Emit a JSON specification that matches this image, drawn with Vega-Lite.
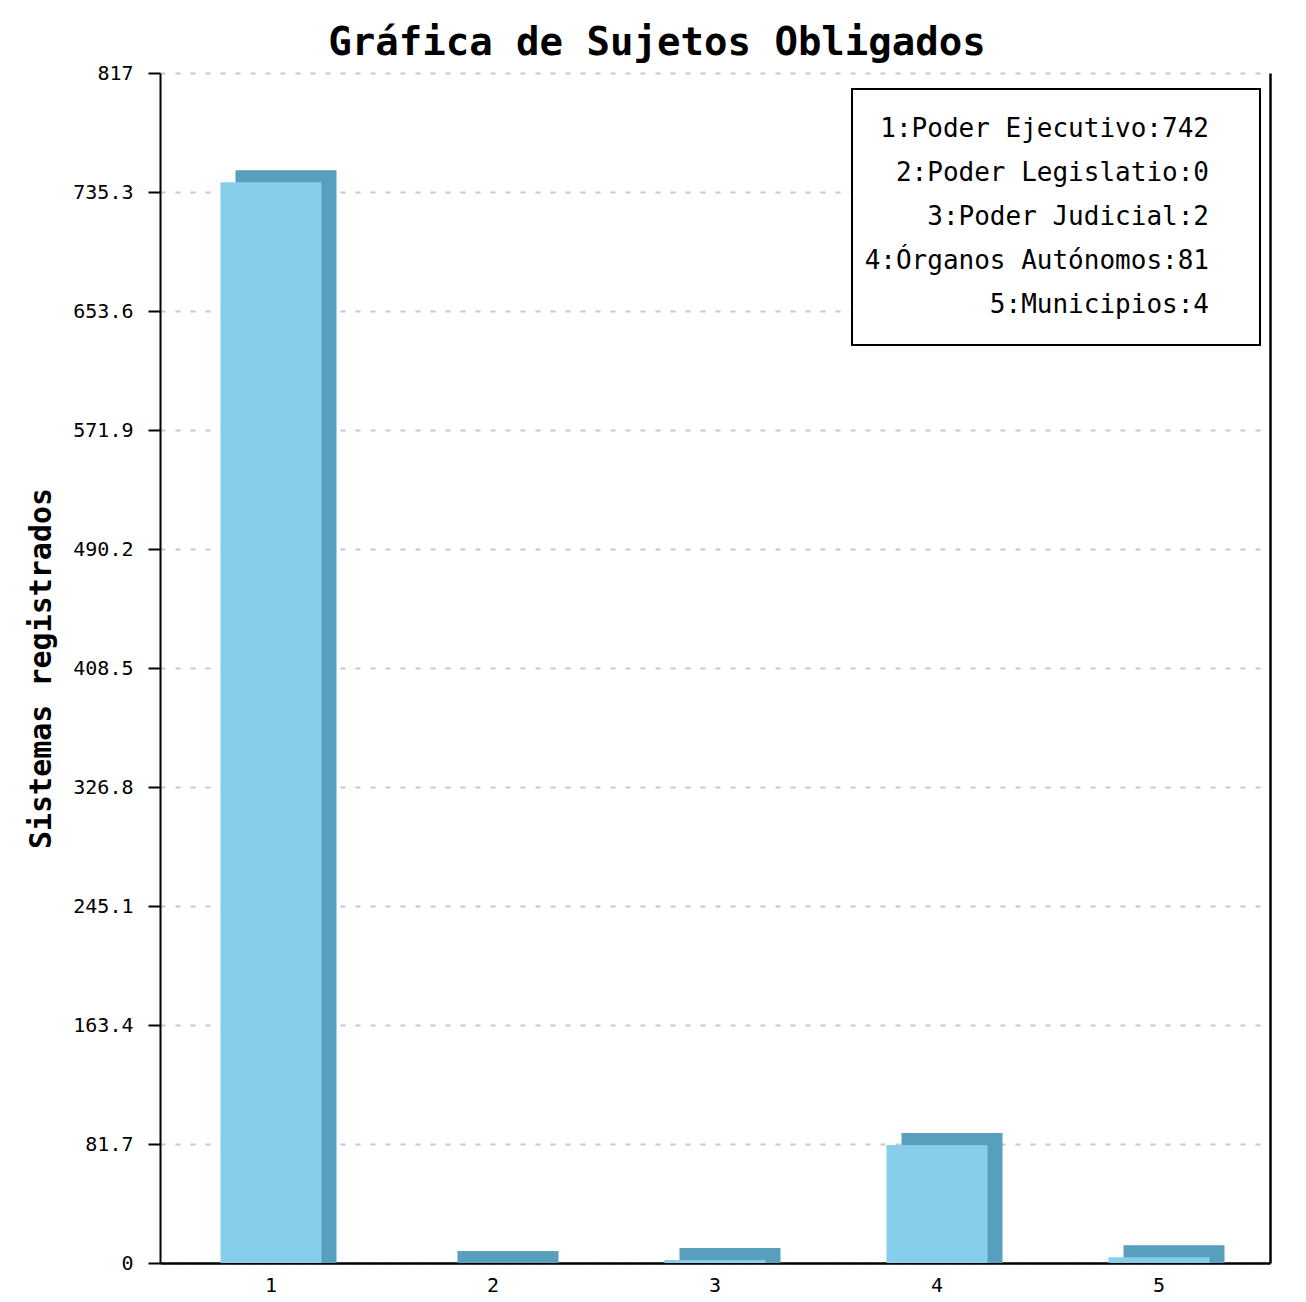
{
  "$schema": "https://vega.github.io/schema/vega-lite/v6.json",
  "width": 1110,
  "height": 1190,
  "autosize": {"type": "none"},
  "padding": {"left": 160, "top": 73, "right": 36, "bottom": 39},
  "background": "white",
  "config": {"view": {"stroke": null}, "legend": {"strokeWidth": 2}},
  "title": {
    "text": "Gráfica de Sujetos Obligados",
    "font": "DejaVu Sans Mono",
    "fontSize": 39,
    "fontWeight": "bold",
    "color": "black",
    "anchor": "middle",
    "dx": -58,
    "offset": 0
  },
  "data": {
    "values": [
      {"id": "1", "value": 742, "label": "1:Poder Ejecutivo:742"},
      {"id": "2", "value": 0, "label": "2:Poder Legislatio:0"},
      {"id": "3", "value": 2, "label": "3:Poder Judicial:2"},
      {"id": "4", "value": 81, "label": "4:Órganos Autónomos:81"},
      {"id": "5", "value": 4, "label": "5:Municipios:4"}
    ]
  },
  "encoding": {
    "x": {
      "field": "id",
      "type": "ordinal",
      "scale": {"paddingInner": 0.545, "paddingOuter": 0.2725},
      "axis": {
        "title": null,
        "labelAngle": 0,
        "labelFont": "DejaVu Sans Mono",
        "labelFontSize": 20,
        "labelColor": "black",
        "labelPadding": 12,
        "ticks": false,
        "domainColor": "black",
        "domainWidth": 2.5
      }
    }
  },
  "layer": [
    {
      "mark": {"type": "bar", "color": "#579FBD", "xOffset": 15, "yOffset": -12, "y2Offset": 0},
      "encoding": {
        "y": {
          "field": "value",
          "type": "quantitative",
          "scale": {"domain": [0, 817], "nice": false, "zero": true},
          "axis": {
            "orient": "left",
            "values": [0, 81.7, 163.4, 245.1, 326.8, 408.5, 490.2, 571.9, 653.6, 735.3, 817],
            "format": ".4~g",
            "title": "Sistemas registrados",
            "titleFont": "DejaVu Sans Mono",
            "titleFontSize": 30,
            "titleFontWeight": "bold",
            "titleColor": "black",
            "titlePadding": 16,
            "labelFont": "DejaVu Sans Mono",
            "labelFontSize": 20,
            "labelColor": "black",
            "labelPadding": 15,
            "tickSize": 12,
            "tickWidth": 2,
            "tickColor": "black",
            "domainColor": "black",
            "domainWidth": 2,
            "grid": true,
            "gridColor": "#c8c8c8",
            "gridDash": [5, 10],
            "gridWidth": 2
          }
        },
        "y2": {"datum": 0}
      }
    },
    {
      "mark": {"type": "bar"},
      "encoding": {
        "y": {"field": "value", "type": "quantitative", "axis": null},
        "color": {
          "field": "label",
          "type": "nominal",
          "scale": {"range": ["#87CEEB"]},
          "legend": {
            "title": null,
            "orient": "none",
            "legendX": 692,
            "legendY": 16,
            "strokeColor": "black",
            "fillColor": "white",
            "padding": 27,
            "symbolSize": 1,
            "symbolOpacity": 0,
            "symbolStrokeWidth": 0,
            "symbolOffset": 340,
            "labelFont": "DejaVu Sans Mono",
            "labelFontSize": 26,
            "labelColor": "black",
            "labelAlign": "right",
            "labelOffset": -36,
            "labelLimit": 600,
            "rowPadding": 18
          }
        }
      }
    },
    {
      "mark": {"type": "bar", "opacity": 0},
      "encoding": {
        "y": {
          "field": "value",
          "type": "quantitative",
          "axis": {
            "orient": "right",
            "labels": false,
            "ticks": false,
            "grid": false,
            "title": null,
            "domainColor": "black",
            "domainWidth": 2.5
          }
        }
      }
    }
  ],
  "resolve": {"axis": {"y": "independent"}}
}
